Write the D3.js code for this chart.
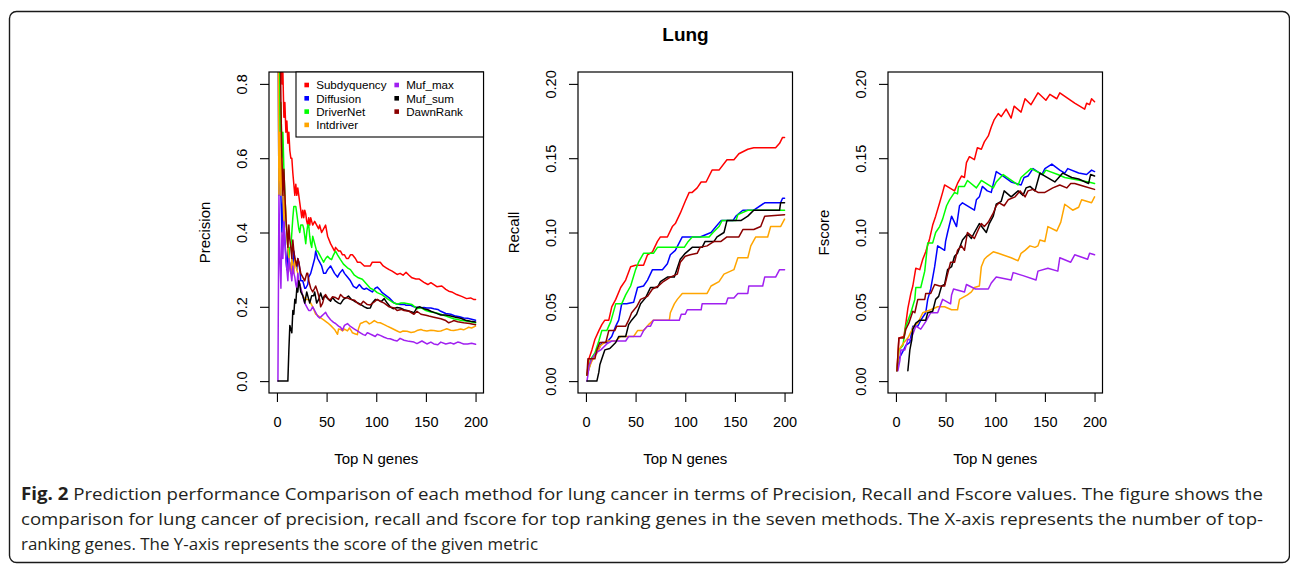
<!DOCTYPE html>
<html>
<head>
<meta charset="utf-8">
<script src="https://cdn.jsdelivr.net/npm/d3@7"></script>
<style>
  html, body { margin: 0; padding: 0; background: #fff; }
  svg { display: block; }
</style>
</head>
<body>
<svg id="chart" width="1290" height="565"></svg>
<script>
// ---------------- DATA ----------------
const methods = ["Subdyquency", "Diffusion", "DriverNet", "Intdriver", "Muf_max", "Muf_sum", "DawnRank"];
const methodColors = ["#FF0000", "#0000FF", "#00FF00", "#FFA500", "#A020F0", "#000000", "#8B0000"];
const xTicks = [0, 50, 100, 150, 200];
const precisionTicks = [0.0, 0.2, 0.4, 0.6, 0.8];
const scoreTicks = [0.00, 0.05, 0.10, 0.15, 0.20];
const panelTitles = ["Precision", "Recall", "Fscore"];

// Precision: [N, value]
const precSubdyquency = [[1,1],[2,1],[3,1],[4,1],[5,0.8],[6,0.83],[7,0.71],[8,0.75],[9,0.67],[10,0.7],[11,0.64],[12,0.67],[13,0.62],[14,0.6],[15,0.6],[16,0.56],[17,0.53],[18,0.5],[19,0.53],[20,0.5],[21,0.52],[22,0.5],[23,0.48],[24,0.46],[25,0.44],[26,0.46],[27,0.44],[28,0.46],[29,0.45],[30,0.43],[31,0.42],[32,0.44],[33,0.42],[34,0.44],[36,0.42],[38,0.43],[40,0.42],[42,0.41],[43,0.42],[45,0.40],[47,0.41],[49,0.42],[51,0.39],[54,0.37],[56,0.36],[58,0.35],[59,0.36],[62,0.35],[64,0.35],[66,0.34],[68,0.34],[70,0.33],[72,0.33],[74,0.34],[76,0.34],[79,0.33],[81,0.32],[84,0.32],[88,0.31],[91,0.31],[94,0.31],[96,0.32],[98,0.32],[101,0.32],[104,0.32],[107,0.31],[110,0.305],[113,0.3],[116,0.296],[121,0.287],[124,0.29],[127,0.285],[130,0.293],[133,0.285],[136,0.278],[140,0.275],[143,0.275],[148,0.266],[152,0.26],[155,0.265],[161,0.254],[166,0.256],[170,0.247],[173,0.242],[176,0.24],[181,0.233],[186,0.228],[191,0.222],[195,0.224],[198,0.22],[200,0.22]];
const precDiffusion = [[1,1],[2,0.5],[3,0.67],[4,0.5],[5,0.4],[6,0.5],[7,0.43],[8,0.38],[9,0.33],[10,0.3],[11,0.36],[12,0.33],[13,0.31],[14,0.29],[15,0.33],[16,0.31],[17,0.35],[18,0.33],[19,0.32],[20,0.3],[21,0.33],[22,0.32],[23,0.3],[24,0.27],[26,0.27],[28,0.25],[29,0.25],[31,0.26],[32,0.28],[34,0.29],[36,0.31],[38,0.33],[39,0.35],[41,0.33],[43,0.32],[45,0.31],[47,0.29],[49,0.29],[51,0.3],[54,0.31],[56,0.3],[58,0.29],[61,0.28],[63,0.29],[66,0.3],[68,0.29],[71,0.28],[74,0.27],[77,0.255],[80,0.25],[83,0.26],[86,0.25],[88,0.247],[90,0.25],[93,0.245],[96,0.24],[99,0.25],[101,0.253],[104,0.245],[106,0.238],[110,0.23],[113,0.224],[118,0.21],[122,0.207],[125,0.206],[128,0.207],[130,0.204],[134,0.205],[138,0.2],[143,0.197],[148,0.198],[151,0.197],[155,0.197],[158,0.195],[162,0.193],[165,0.188],[170,0.182],[175,0.18],[180,0.175],[184,0.173],[188,0.17],[192,0.169],[197,0.166],[200,0.164]];
const precDriverNet = [[1,1],[2,1],[3,0.67],[4,0.75],[5,0.6],[6,0.67],[7,0.57],[8,0.5],[9,0.44],[10,0.4],[11,0.36],[12,0.33],[13,0.36],[14,0.36],[15,0.4],[16,0.44],[17,0.47],[18,0.47],[19,0.47],[20,0.45],[21,0.43],[22,0.41],[23,0.4],[24,0.42],[25,0.42],[26,0.42],[27,0.41],[28,0.39],[29,0.37],[30,0.4],[31,0.42],[32,0.42],[33,0.39],[34,0.37],[35,0.36],[36,0.39],[37,0.38],[38,0.37],[40,0.35],[41,0.35],[43,0.34],[45,0.33],[47,0.32],[49,0.33],[51,0.336],[53,0.33],[55,0.327],[57,0.34],[59,0.35],[61,0.34],[64,0.327],[67,0.315],[71,0.305],[74,0.3],[78,0.285],[82,0.278],[86,0.274],[90,0.262],[94,0.25],[98,0.245],[101,0.238],[106,0.232],[111,0.222],[116,0.213],[121,0.207],[125,0.21],[128,0.21],[132,0.208],[136,0.206],[141,0.195],[145,0.198],[150,0.19],[155,0.186],[160,0.184],[165,0.18],[170,0.175],[178,0.168],[185,0.164],[192,0.161],[200,0.157]];
const precIntdriver = [[1,1],[2,0.5],[3,0.67],[4,0.5],[5,0.6],[6,0.5],[7,0.43],[8,0.5],[9,0.44],[10,0.4],[11,0.36],[12,0.33],[13,0.31],[14,0.29],[15,0.33],[16,0.31],[17,0.29],[18,0.33],[19,0.32],[20,0.3],[21,0.29],[22,0.27],[24,0.25],[26,0.23],[29,0.22],[32,0.22],[34,0.21],[36,0.2],[39,0.18],[42,0.175],[44,0.17],[47,0.165],[51,0.157],[54,0.15],[58,0.139],[61,0.126],[62,0.14],[64,0.139],[66,0.135],[68,0.14],[71,0.135],[73,0.143],[75,0.135],[76,0.13],[79,0.127],[81,0.125],[82,0.14],[84,0.155],[86,0.157],[88,0.16],[90,0.161],[93,0.154],[95,0.157],[98,0.163],[101,0.158],[104,0.157],[108,0.152],[111,0.148],[115,0.143],[118,0.139],[121,0.135],[124,0.131],[127,0.135],[131,0.134],[135,0.131],[138,0.132],[141,0.136],[145,0.139],[148,0.136],[151,0.135],[155,0.137],[158,0.136],[162,0.134],[165,0.135],[168,0.138],[171,0.141],[175,0.137],[178,0.136],[182,0.138],[185,0.14],[188,0.138],[191,0.142],[193,0.145],[196,0.143],[200,0.148]];
const precMufMax = [[1,0],[2,0.5],[3,0.33],[4,0.25],[5,0.4],[6,0.33],[7,0.43],[8,0.38],[9,0.33],[10,0.3],[11,0.27],[12,0.33],[13,0.31],[14,0.29],[15,0.27],[16,0.31],[17,0.29],[18,0.28],[19,0.26],[20,0.25],[21,0.29],[22,0.27],[23,0.26],[24,0.25],[25,0.24],[26,0.23],[27,0.22],[28,0.21],[30,0.2],[32,0.19],[34,0.19],[36,0.2],[38,0.19],[40,0.18],[41,0.175],[43,0.17],[45,0.175],[47,0.18],[49,0.185],[51,0.175],[54,0.165],[57,0.158],[59,0.155],[62,0.148],[64,0.145],[66,0.137],[68,0.15],[71,0.155],[74,0.147],[78,0.14],[81,0.135],[84,0.13],[87,0.125],[89,0.123],[91,0.13],[93,0.128],[96,0.124],[99,0.12],[101,0.126],[104,0.123],[108,0.118],[111,0.115],[114,0.114],[118,0.11],[121,0.108],[124,0.115],[128,0.11],[133,0.107],[138,0.105],[141,0.101],[146,0.108],[151,0.1],[155,0.105],[158,0.1],[162,0.098],[165,0.105],[170,0.1],[175,0.103],[178,0.1],[182,0.105],[185,0.103],[188,0.1],[192,0.1],[196,0.102],[200,0.099]];
const precMufSum = [[1,0],[11,0],[12,0.083],[13,0.15],[14,0.14],[15,0.13],[16,0.19],[17,0.18],[18,0.22],[19,0.21],[20,0.25],[21,0.24],[22,0.27],[23,0.26],[24,0.24],[26,0.23],[28,0.21],[30,0.24],[32,0.22],[33,0.21],[35,0.23],[37,0.23],[38,0.24],[40,0.21],[42,0.22],[44,0.237],[46,0.22],[48,0.23],[50,0.225],[52,0.22],[54,0.215],[56,0.225],[59,0.215],[62,0.21],[64,0.208],[67,0.22],[70,0.225],[72,0.229],[75,0.22],[78,0.215],[82,0.21],[85,0.205],[88,0.2],[91,0.196],[94,0.197],[96,0.21],[99,0.22],[102,0.218],[105,0.214],[108,0.222],[111,0.21],[114,0.2],[117,0.195],[121,0.198],[124,0.197],[128,0.192],[131,0.19],[135,0.187],[138,0.184],[141,0.198],[144,0.2],[148,0.195],[152,0.192],[155,0.188],[160,0.183],[165,0.178],[170,0.178],[175,0.175],[180,0.172],[185,0.169],[190,0.164],[195,0.161],[200,0.159]];
const precDawnRank = [[1,1],[2,1],[3,1],[4,0.75],[5,0.6],[6,0.5],[7,0.57],[8,0.5],[9,0.44],[10,0.4],[11,0.36],[12,0.42],[13,0.38],[14,0.36],[15,0.33],[16,0.38],[17,0.35],[18,0.33],[19,0.32],[20,0.31],[21,0.33],[22,0.32],[24,0.29],[26,0.28],[28,0.27],[30,0.29],[31,0.29],[32,0.27],[34,0.25],[36,0.24],[38,0.25],[39,0.256],[41,0.24],[43,0.22],[44,0.2],[46,0.21],[48,0.23],[49,0.233],[52,0.22],[54,0.22],[56,0.227],[59,0.225],[62,0.22],[64,0.233],[67,0.225],[71,0.224],[74,0.22],[78,0.218],[81,0.21],[84,0.205],[87,0.215],[91,0.206],[94,0.205],[98,0.213],[101,0.22],[104,0.215],[108,0.21],[113,0.2],[118,0.197],[121,0.19],[125,0.193],[128,0.19],[133,0.188],[138,0.18],[141,0.188],[145,0.18],[150,0.177],[153,0.175],[158,0.172],[165,0.168],[170,0.163],[173,0.157],[176,0.16],[178,0.163],[182,0.16],[188,0.157],[194,0.155],[200,0.152]];

// Recall: [N, value]
const recSubdyquency = [[1,0.004],[3,0.015],[6,0.021],[9,0.028],[13,0.034],[16,0.038],[19,0.041],[23,0.041],[26,0.05],[30,0.055],[35,0.063],[40,0.068],[45,0.077],[50,0.078],[58,0.078],[62,0.085],[67,0.087],[72,0.094],[75,0.097],[82,0.097],[87,0.104],[90,0.106],[95,0.113],[100,0.121],[104,0.127],[107,0.127],[112,0.13],[116,0.134],[121,0.134],[127,0.142],[134,0.142],[142,0.149],[149,0.149],[154,0.153],[163,0.156],[169,0.157],[183,0.157],[191,0.157],[195,0.16],[198,0.164],[200,0.164]];
const recDiffusion = [[1,0.004],[6,0.015],[11,0.019],[16,0.026],[21,0.026],[26,0.03],[30,0.037],[33,0.041],[36,0.052],[41,0.052],[48,0.053],[52,0.063],[58,0.064],[62,0.068],[67,0.075],[77,0.075],[82,0.079],[85,0.085],[90,0.088],[97,0.097],[104,0.097],[115,0.097],[126,0.1],[131,0.104],[136,0.108],[148,0.108],[151,0.111],[158,0.115],[169,0.115],[180,0.12],[196,0.12],[198,0.123],[200,0.123]];
const recDriverNet = [[1,0.004],[5,0.015],[9,0.019],[13,0.027],[16,0.034],[21,0.034],[25,0.04],[30,0.052],[36,0.052],[40,0.058],[45,0.064],[50,0.075],[53,0.08],[58,0.086],[68,0.086],[72,0.09],[99,0.09],[103,0.094],[107,0.097],[124,0.097],[128,0.1],[134,0.104],[137,0.108],[151,0.108],[153,0.112],[163,0.115],[195,0.115],[200,0.115]];
const recIntdriver = [[1,0.004],[5,0.012],[8,0.016],[11,0.019],[15,0.024],[21,0.027],[30,0.027],[35,0.03],[48,0.03],[52,0.034],[58,0.034],[63,0.038],[68,0.041],[84,0.041],[85,0.046],[89,0.052],[92,0.055],[97,0.059],[122,0.059],[126,0.064],[134,0.067],[139,0.072],[149,0.075],[153,0.083],[163,0.083],[166,0.091],[171,0.097],[183,0.097],[186,0.104],[196,0.104],[200,0.109]];
const recMufMax = [[1,0],[2,0.004],[3,0.01],[6,0.015],[10,0.019],[15,0.021],[21,0.025],[26,0.027],[40,0.027],[43,0.03],[55,0.03],[58,0.034],[62,0.037],[65,0.037],[68,0.041],[94,0.041],[96,0.045],[100,0.045],[102,0.048],[116,0.048],[117,0.052],[141,0.052],[143,0.056],[149,0.056],[153,0.059],[163,0.059],[164,0.064],[178,0.064],[180,0.07],[191,0.07],[195,0.075],[200,0.075]];
const recMufSum = [[1,0],[11,0],[13,0.006],[14,0.011],[16,0.015],[19,0.021],[24,0.022],[30,0.026],[33,0.03],[40,0.03],[43,0.038],[46,0.041],[51,0.045],[55,0.052],[60,0.056],[65,0.063],[72,0.063],[75,0.067],[82,0.07],[89,0.07],[95,0.082],[100,0.086],[107,0.09],[117,0.09],[120,0.094],[129,0.094],[132,0.097],[139,0.1],[142,0.108],[156,0.108],[163,0.111],[169,0.115],[195,0.115],[196,0.12],[200,0.12]];
const recDawnRank = [[1,0.004],[2,0.015],[9,0.015],[11,0.021],[14,0.026],[20,0.026],[23,0.034],[29,0.034],[31,0.037],[40,0.037],[43,0.041],[46,0.046],[51,0.05],[55,0.055],[62,0.057],[67,0.062],[73,0.064],[78,0.067],[85,0.07],[92,0.072],[95,0.08],[100,0.084],[105,0.085],[112,0.086],[115,0.09],[122,0.091],[129,0.094],[136,0.094],[142,0.097],[154,0.097],[158,0.102],[169,0.102],[176,0.104],[180,0.111],[200,0.112]];

// Fscore: [N, value]
const fSubdyquency = [[1,0.007],[3,0.029],[8,0.03],[10,0.039],[12,0.049],[15,0.059],[17,0.064],[20,0.076],[24,0.075],[27,0.082],[30,0.087],[34,0.096],[37,0.105],[40,0.111],[44,0.12],[47,0.127],[49,0.132],[59,0.128],[62,0.133],[66,0.138],[69,0.137],[71,0.147],[74,0.151],[79,0.149],[82,0.157],[86,0.156],[89,0.161],[93,0.165],[96,0.171],[99,0.176],[103,0.18],[106,0.178],[111,0.183],[116,0.177],[119,0.185],[126,0.181],[130,0.19],[136,0.186],[143,0.194],[151,0.189],[155,0.193],[162,0.19],[165,0.194],[180,0.187],[190,0.183],[192,0.187],[195,0.186],[197,0.19],[200,0.188]];
const fDiffusion = [[1,0.007],[3,0.015],[7,0.02],[10,0.024],[14,0.026],[17,0.037],[22,0.037],[25,0.041],[30,0.046],[32,0.055],[35,0.062],[39,0.077],[42,0.091],[49,0.088],[50,0.094],[52,0.1],[56,0.111],[61,0.104],[64,0.118],[67,0.12],[79,0.115],[81,0.122],[84,0.124],[87,0.131],[92,0.128],[96,0.127],[101,0.141],[108,0.138],[116,0.134],[126,0.132],[129,0.137],[133,0.138],[138,0.143],[147,0.139],[150,0.143],[157,0.146],[165,0.142],[170,0.14],[173,0.143],[184,0.14],[192,0.139],[197,0.142],[200,0.141]];
const fDriverNet = [[1,0.007],[3,0.021],[7,0.024],[10,0.037],[15,0.046],[19,0.055],[20,0.063],[25,0.063],[29,0.074],[32,0.093],[37,0.093],[40,0.1],[44,0.104],[47,0.109],[51,0.118],[54,0.122],[59,0.127],[62,0.126],[63,0.131],[69,0.131],[72,0.135],[81,0.13],[86,0.135],[98,0.13],[101,0.134],[108,0.139],[123,0.132],[126,0.137],[131,0.14],[136,0.143],[148,0.139],[151,0.142],[163,0.139],[170,0.137],[194,0.134],[200,0.133]];
const fIntdriver = [[1,0.007],[3,0.021],[8,0.026],[12,0.029],[15,0.033],[18,0.037],[22,0.039],[27,0.046],[35,0.048],[42,0.05],[49,0.05],[56,0.048],[62,0.048],[64,0.055],[72,0.058],[76,0.06],[79,0.063],[84,0.064],[86,0.077],[89,0.082],[92,0.084],[98,0.087],[103,0.086],[116,0.083],[123,0.081],[126,0.086],[130,0.088],[135,0.091],[140,0.09],[143,0.091],[145,0.095],[150,0.094],[153,0.104],[162,0.101],[166,0.107],[170,0.119],[178,0.115],[184,0.117],[187,0.122],[197,0.12],[200,0.124]];
const fMufMax = [[2,0.007],[4,0.014],[5,0.021],[9,0.021],[12,0.028],[15,0.028],[20,0.037],[25,0.035],[30,0.04],[35,0.046],[42,0.046],[47,0.055],[55,0.052],[56,0.058],[58,0.062],[69,0.06],[71,0.065],[80,0.062],[93,0.062],[96,0.066],[101,0.07],[116,0.068],[118,0.073],[128,0.071],[141,0.068],[143,0.074],[153,0.076],[163,0.074],[165,0.083],[176,0.08],[180,0.085],[193,0.082],[195,0.086],[200,0.085]];
const fMufSum = [[12,0.007],[13,0.014],[14,0.021],[16,0.028],[17,0.035],[20,0.039],[24,0.041],[30,0.041],[32,0.046],[37,0.047],[40,0.055],[43,0.057],[46,0.064],[49,0.065],[52,0.075],[56,0.077],[59,0.084],[62,0.086],[67,0.095],[72,0.099],[76,0.096],[79,0.1],[84,0.106],[91,0.1],[94,0.106],[98,0.111],[101,0.119],[106,0.121],[109,0.128],[116,0.124],[123,0.128],[128,0.125],[131,0.13],[135,0.131],[140,0.128],[145,0.14],[150,0.138],[160,0.134],[164,0.137],[168,0.14],[177,0.137],[184,0.136],[194,0.133],[196,0.139],[200,0.138]];
const fDawnRank = [[1,0.007],[3,0.029],[8,0.029],[10,0.035],[13,0.039],[17,0.047],[19,0.046],[22,0.055],[29,0.055],[30,0.059],[35,0.059],[39,0.065],[44,0.064],[49,0.064],[52,0.072],[55,0.08],[59,0.08],[62,0.088],[66,0.091],[69,0.088],[72,0.1],[79,0.096],[83,0.102],[86,0.106],[89,0.104],[93,0.107],[98,0.113],[101,0.118],[104,0.12],[109,0.118],[113,0.122],[120,0.124],[125,0.128],[130,0.124],[133,0.128],[138,0.129],[143,0.127],[150,0.127],[158,0.13],[165,0.132],[172,0.13],[176,0.133],[180,0.133],[190,0.131],[200,0.129]];

const captionLines = [
  ["Fig. 2", " Prediction performance Comparison of each method for lung cancer in terms of Precision, Recall and Fscore values. The figure shows the"],
  ["", "comparison for lung cancer of precision, recall and fscore for top ranking genes in the seven methods. The X-axis represents the number of top-"],
  ["", "ranking genes. The Y-axis represents the score of the given metric"]
];

// ---------------- DRAWING ----------------
const svg = d3.select("#chart");
const FONT = "'Liberation Sans', Arial, Helvetica, sans-serif";

// outer rounded frame
svg.append("rect")
  .attr("x", 9.5).attr("y", 11.5).attr("width", 1280).attr("height", 551)
  .attr("rx", 7).attr("ry", 7)
  .attr("fill", "none").attr("stroke", "#1a1a1a").attr("stroke-width", 1.4);

// title
svg.append("text")
  .attr("x", 685.5).attr("y", 41)
  .attr("text-anchor", "middle")
  .attr("font-family", FONT).attr("font-weight", "bold").attr("font-size", 19)
  .text("Lung");

const panels = [
  { left: 269, series: [precSubdyquency, precDiffusion, precDriverNet, precIntdriver, precMufMax, precMufSum, precDawnRank],
    domain: [0, 0.8], ticks: precisionTicks, fmt: d3.format(".1f"), legend: true },
  { left: 578, series: [recSubdyquency, recDiffusion, recDriverNet, recIntdriver, recMufMax, recMufSum, recDawnRank],
    domain: [0, 0.2], ticks: scoreTicks, fmt: d3.format(".2f"), legend: false },
  { left: 888, series: [fSubdyquency, fDiffusion, fDriverNet, fIntdriver, fMufMax, fMufSum, fDawnRank],
    domain: [0, 0.2], ticks: scoreTicks, fmt: d3.format(".2f"), legend: false }
];

const boxW = 214.5, boxTop = 72, boxBottom = 393;
const xPad = 200 * 0.04;

panels.forEach((p, i) => {
  const right = p.left + boxW;
  const yPad = (p.domain[1] - p.domain[0]) * 0.04;
  const x = d3.scaleLinear().domain([-xPad, 200 + xPad]).range([p.left, right]);
  const y = d3.scaleLinear().domain([p.domain[0] - yPad, p.domain[1] + yPad]).range([boxBottom, boxTop]);

  const g = svg.append("g");

  const clipId = "clip" + i;
  svg.append("clipPath").attr("id", clipId)
    .append("rect").attr("x", p.left).attr("y", boxTop).attr("width", boxW).attr("height", boxBottom - boxTop);

  const line = d3.line().x(d => x(d[0])).y(d => y(d[1]));
  const lg = g.append("g").attr("clip-path", `url(#${clipId})`);
  p.series.forEach((s, k) => {
    lg.append("path").datum(s)
      .attr("d", line)
      .attr("fill", "none")
      .attr("stroke", methodColors[k])
      .attr("stroke-width", 1.5)
      .attr("stroke-linejoin", "round")
      .attr("stroke-linecap", "round");
  });

  // box
  g.append("rect")
    .attr("x", p.left).attr("y", boxTop).attr("width", boxW).attr("height", boxBottom - boxTop)
    .attr("fill", "none").attr("stroke", "#000").attr("stroke-width", 1.2);

  // x axis
  const xa = g.append("g").attr("transform", `translate(0,${boxBottom})`)
    .call(d3.axisBottom(x).tickValues(xTicks).tickSize(9).tickPadding(15).tickFormat(d3.format("d")));
  xa.select(".domain").remove();
  xa.selectAll("line").attr("stroke", "#000").attr("stroke-width", 1.1);
  xa.selectAll("text").attr("font-family", FONT).attr("font-size", 14.5).attr("fill", "#000");

  // y axis
  const ya = g.append("g").attr("transform", `translate(${p.left},0)`)
    .call(d3.axisLeft(y).tickValues(p.ticks).tickSize(9).tickFormat(p.fmt));
  ya.select(".domain").remove();
  ya.selectAll("line").attr("stroke", "#000").attr("stroke-width", 1.1);
  ya.selectAll("text")
    .attr("x", null).attr("dy", null)
    .attr("transform", "translate(-22,0) rotate(-90)")
    .attr("text-anchor", "middle")
    .attr("font-family", FONT).attr("font-size", 14.5).attr("fill", "#000");

  // axis titles
  g.append("text")
    .attr("x", (p.left + right) / 2).attr("y", 464)
    .attr("text-anchor", "middle")
    .attr("font-family", FONT).attr("font-size", 15)
    .text("Top N genes");
  g.append("text")
    .attr("transform", `translate(${p.left - 59},${(boxTop + boxBottom) / 2}) rotate(-90)`)
    .attr("text-anchor", "middle")
    .attr("font-family", FONT).attr("font-size", 15)
    .text(panelTitles[i]);

  // legend
  if (p.legend) {
    const lx = 296, lw = right - lx, ly = boxTop, lh = 65;
    const lgd = g.append("g");
    lgd.append("rect").attr("x", lx).attr("y", ly).attr("width", lw).attr("height", lh)
      .attr("fill", "#fff").attr("stroke", "#000").attr("stroke-width", 1.1);
    methods.forEach((m, k) => {
      const col = k < 4 ? 0 : 1;
      const row = k < 4 ? k : k - 4;
      const cx = lx + 10.7 + col * 90;
      const cy = ly + 13 + row * 13.3;
      lgd.append("rect").attr("x", cx - 2.3).attr("y", cy - 2.3).attr("width", 4.6).attr("height", 4.6)
        .attr("fill", methodColors[k]);
      lgd.append("text").attr("x", cx + 9.5).attr("y", cy + 4.2)
        .attr("font-family", FONT).attr("font-size", 11.6).attr("fill", "#000")
        .text(m);
    });
  }
});

// caption
const capX = 21, capRight = 1263;
const capBase = [500, 525, 550];
captionLines.forEach((ln, i) => {
  const t = svg.append("text")
    .attr("x", capX).attr("y", capBase[i])
    .attr("font-family", "'Open Sans', 'Noto Sans', sans-serif")
    .attr("font-size", 17).attr("fill", "#231f20");
  if (ln[0]) t.append("tspan").attr("font-weight", "bold").text(ln[0]);
  t.append("tspan").text(ln[1]);
  const target = i < 2 ? capRight - capX : 538 - capX;
  t.attr("textLength", target).attr("lengthAdjust", "spacingAndGlyphs");
});
</script>
</body>
</html>
